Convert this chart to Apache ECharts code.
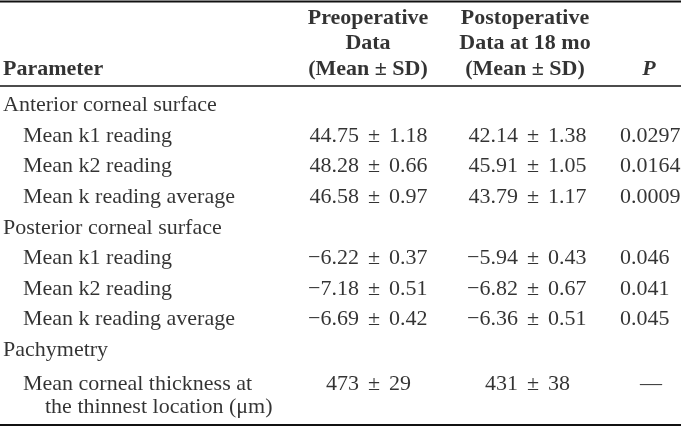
<!DOCTYPE html>
<html>
<head>
<meta charset="utf-8">
<script src="https://cdn.jsdelivr.net/npm/echarts@6/dist/echarts.min.js"></script>
<style>
html,body{margin:0;padding:0;background:#fff;}
#c{width:681px;height:427px;}
</style>
</head>
<body>
<div id="c"></div>
<script>
// ---- data ----
const headers = ['Parameter', 'Preoperative\nData\n(Mean \u00b1 SD)', 'Postoperative\nData at 18 mo\n(Mean \u00b1 SD)', 'P'];
const rowLabels = ['Anterior corneal surface', 'Mean k1 reading', 'Mean k2 reading', 'Mean k reading average',
  'Posterior corneal surface', 'Mean k1 reading', 'Mean k2 reading', 'Mean k reading average',
  'Pachymetry', 'Mean corneal thickness at\nthe thinnest location (\u03bcm)'];
const rowLevel = [0, 1, 1, 1, 0, 1, 1, 1, 0, 1];
const preMean  = [null, 44.75, 48.28, 46.58, null, -6.22, -7.18, -6.69, null, 473];
const preSD    = [null, 1.18, 0.66, 0.97, null, 0.37, 0.51, 0.42, null, 29];
const postMean = [null, 42.14, 45.91, 43.79, null, -5.94, -6.82, -6.36, null, 431];
const postSD   = [null, 1.38, 1.05, 1.17, null, 0.43, 0.67, 0.51, null, 38];
const pValue   = [null, 0.0297, 0.0164, 0.0009, null, 0.046, 0.041, 0.045, null, null];

// ---- layout ----
const W = 681, H = 427;
const ROW0 = 105.5, ROWH = 30.6;         // px of first body row centre, row pitch
const yIdx = px => (px - ROW0) / ROWH;   // px -> row units
const HEAD_LAST = 69, HEAD_LH = 25.5;
const LAST_SHIFT = 3;                    // extra drop of the two-line last row
const COL = {param: 3, indent: 23, hang: 22, preMean: 359, prePm: 374, preSd: 389,
  postMean: 518, postPm: 533, postSd: 548, pLeft: 620, dash: 651,
  hPre: 368, hPost: 525, hP: 649};
const FONT = '"Liberation Serif", "Times New Roman", serif';
const FS = 22, INK = '#000';

function fmt(v) {
  const s = Number.isInteger(v) ? String(v) : v.toFixed(2);
  return s.replace('-', '\u2212');
}

function textSeries(points, labelOpt) {
  return {
    type: 'scatter', symbolSize: 0, silent: true, animation: false,
    data: points,
    label: Object.assign({
      show: true, position: 'inside', color: INK, fontFamily: FONT, fontSize: FS,
      verticalAlign: 'middle',
      formatter: p => p.data.t
    }, labelOpt)
  };
}

const series = [];
// header
const hy = yIdx(HEAD_LAST + HEAD_LH / 2);
series.push(textSeries([{value: [COL.param, hy], t: headers[0]}],
  {align: 'left', verticalAlign: 'bottom', fontWeight: 'bold', lineHeight: HEAD_LH}));
series.push(textSeries([{value: [COL.hPre, hy], t: headers[1]}, {value: [COL.hPost, hy], t: headers[2]}],
  {align: 'center', verticalAlign: 'bottom', fontWeight: 'bold', lineHeight: HEAD_LH}));
series.push(textSeries([{value: [COL.hP, hy], t: headers[3]}],
  {align: 'center', verticalAlign: 'bottom', fontWeight: 'bold', fontStyle: 'italic', lineHeight: HEAD_LH}));

// row labels
const lblPts = [];
const multiPts = [];
rowLabels.forEach((t, i) => {
  const x = rowLevel[i] ? COL.indent : COL.param;
  if (t.indexOf('\n') >= 0) multiPts.push({value: [x, i], t: t});
  else lblPts.push({value: [x, i], t: t});
});
series.push(textSeries(lblPts, {align: 'left'}));
series.push(textSeries(multiPts, {
  align: 'left', verticalAlign: 'top', lineHeight: 23, offset: [0, -11.5 + LAST_SHIFT],
  formatter: p => {
    const parts = p.data.t.split('\n');
    return '{a|' + parts[0] + '}\n{b|' + parts[1] + '}';
  },
  rich: {
    a: {fontFamily: FONT, fontSize: FS, color: INK, lineHeight: 23},
    b: {fontFamily: FONT, fontSize: FS, color: INK, lineHeight: 23, padding: [0, 0, 0, COL.hang]}
  }
}));

// values
const lastRow = rowLabels.length - 1;
function meanSdSeries(means, sds, xm, xpm, xsd) {
  const m = [], pm = [], sd = [];
  means.forEach((v, i) => {
    if (v === null) return;
    const off = [0, i === lastRow ? LAST_SHIFT : 0];
    m.push({value: [xm, i], t: fmt(v), label: {offset: off}});
    pm.push({value: [xpm, i], t: '\u00b1', label: {offset: off}});
    sd.push({value: [xsd, i], t: fmt(sds[i]), label: {offset: off}});
  });
  series.push(textSeries(m, {align: 'right'}));
  series.push(textSeries(pm, {align: 'center'}));
  series.push(textSeries(sd, {align: 'left'}));
}
meanSdSeries(preMean, preSD, COL.preMean, COL.prePm, COL.preSd);
meanSdSeries(postMean, postSD, COL.postMean, COL.postPm, COL.postSd);

const pPts = [], dashPts = [];
pValue.forEach((v, i) => {
  if (!rowLevel[i]) return;
  const off = [0, i === lastRow ? LAST_SHIFT : 0];
  if (v === null) dashPts.push({value: [COL.dash, i], t: '\u2014', label: {offset: off}});
  else pPts.push({value: [COL.pLeft, i], t: String(v), label: {offset: off}});
});
series.push(textSeries(pPts, {align: 'left'}));
series.push(textSeries(dashPts, {align: 'center'}));

const chart = echarts.init(document.getElementById('c'), null, {renderer: 'canvas'});
chart.setOption({
  animation: false,
  backgroundColor: '#fff',
  grid: {left: 0, right: 0, top: 0, bottom: 0},
  xAxis: {type: 'value', min: 0, max: W, show: false},
  yAxis: {type: 'value', inverse: true, min: yIdx(0), max: yIdx(H), show: false},
  graphic: [
    {type: 'line', silent: true, shape: {x1: 0, y1: 1.5, x2: W, y2: 1.5}, style: {stroke: '#111', lineWidth: 2}},
    {type: 'line', silent: true, shape: {x1: 0, y1: 86, x2: W, y2: 86}, style: {stroke: '#111', lineWidth: 1.5}},
    {type: 'line', silent: true, shape: {x1: 0, y1: 425, x2: W, y2: 425}, style: {stroke: '#111', lineWidth: 2}}
  ],
  series: series
});
</script>
</body>
</html>
